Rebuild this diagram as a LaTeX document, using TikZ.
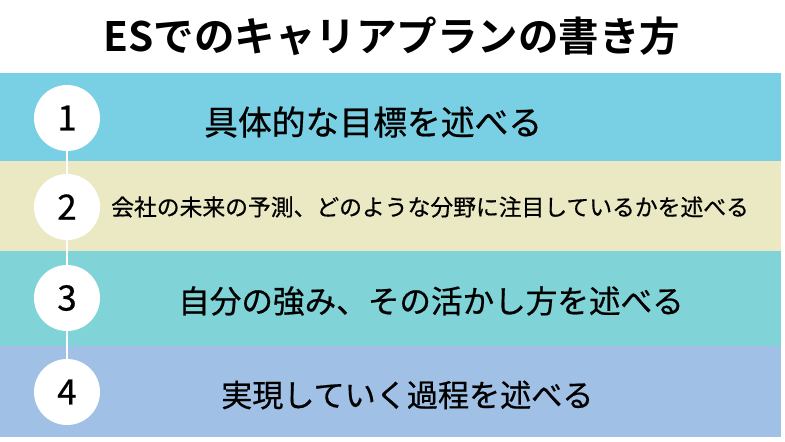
\documentclass[tikz,border=0pt]{standalone}
\usepackage{fontspec}
\setmainfont{Noto Sans CJK JP}[BoldFont={Noto Sans CJK JP Bold}]
\newfontfamily\jpmid{Noto Sans CJK JP}[FakeBold=0.6]
\definecolor{bandA}{HTML}{79CFE3}
\definecolor{bandB}{HTML}{EAE9C4}
\definecolor{bandC}{HTML}{80D4D8}
\definecolor{bandD}{HTML}{A0C1E5}
\tikzset{
  numdot/.style={circle,fill=white,minimum size=66pt,inner sep=0pt,
    font=\jpmid\fontsize{35}{35}\selectfont},
  steptext/.style={anchor=west,inner sep=0pt}
}
\begin{document}
\begin{tikzpicture}[x=1pt,y=-1pt]
	\useasboundingbox (0,0) rectangle (785,442);
	\node[font=\bfseries\fontsize{40.5}{40.5}\selectfont] (title) at (392,36) {ESでのキャリアプランの書き方};
	% bands
	\fill[bandA] (0,73) rectangle (781,161);
	\fill[bandB] (0,161) rectangle (781,251);
	\fill[bandC] (0,251) rectangle (781,346);
	\fill[bandD] (0,346) rectangle (781,437);
	\foreach \n/\y in {1/118,2/207,3/298,4/392}
		\node[numdot] (num\n) at (67,\y) {\n};
	\draw[white,line width=2pt] (num1)--(num2)--(num3)--(num4);
	\node[steptext,font=\jpmid\fontsize{33.8}{33.8}\selectfont] (step1) at (204,122) {具体的な目標を述べる};
	\node[steptext,font=\jpmid\fontsize{22.8}{22.8}\selectfont] (step2) at (111,207) {会社の未来の予測、どのような分野に注目しているかを述べる};
	\node[steptext,font=\jpmid\fontsize{31.6}{31.6}\selectfont] (step3) at (178,301) {自分の強み、その活かし方を述べる};
	\node[steptext,font=\jpmid\fontsize{31.1}{31.1}\selectfont] (step4) at (221,395) {実現していく過程を述べる};
\end{tikzpicture}
\end{document}
